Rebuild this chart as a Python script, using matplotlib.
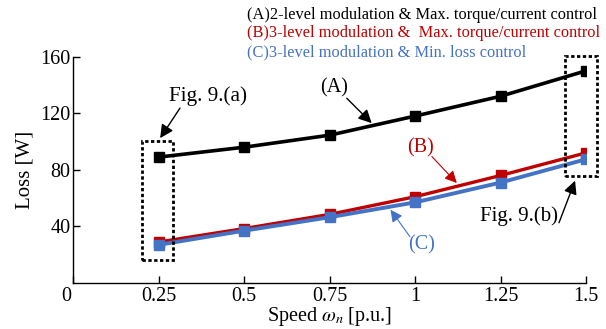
import matplotlib
matplotlib.use("Agg")
import matplotlib.pyplot as plt
from matplotlib.patches import Rectangle
from matplotlib.transforms import ScaledTranslation

plt.rcParams["font.family"] = ["Liberation Serif", "DejaVu Serif"]
plt.rcParams["mathtext.fontset"] = "stix"

# data
speed = [0.25, 0.5, 0.75, 1.0, 1.25, 1.5]
loss_a = [89, 96, 104.5, 118, 132, 150]
loss_b = [29, 38.5, 48.5, 61, 76, 92]
loss_c = [27, 37, 46.5, 57, 71, 87.5]

x_ticks = [0, 0.25, 0.5, 0.75, 1, 1.25, 1.5]
x_tick_labels = ["0", "0.25", "0.5", "0.75", "1", "1.25", "1.5"]
y_ticks = [40, 80, 120, 160]

legend_texts = [
    "(A)2-level modulation & Max. torque/current control",
    "(B)3-level modulation &  Max. torque/current control",
    "(C)3-level modulation & Min. loss control",
]

BLACK = "black"
RED = "#C00000"
BLUE = "#4472C4"

fig = plt.figure(figsize=(6.06, 3.29), dpi=100)
ax = fig.add_axes([0.121, 0.1398, 0.846, 0.688])

ax.plot(speed, loss_a, color=BLACK, lw=2.6, marker="s", ms=7.5, zorder=3)
ax.plot(speed, loss_b, color=RED, lw=2.4, marker="s", ms=7.5, zorder=3)
ax.plot(speed, loss_c, color=BLUE, lw=2.8, marker="s", ms=7.5, zorder=4)

ax.set_xlim(0, 1.5)
ax.set_ylim(0, 160)
ax.set_xticks(x_ticks)
ax.set_xticklabels(x_tick_labels)
ax.set_yticks(y_ticks)
ax.spines["top"].set_visible(False)
ax.spines["right"].set_visible(False)
for s in ("left", "bottom"):
    ax.spines[s].set_linewidth(1.0)
ax.tick_params(axis="both", direction="in", length=5, width=1, labelsize=14.5)
ax.tick_params(axis="y", pad=2)
ax.tick_params(axis="x", pad=3)

# "0" sits a bit left of the origin
lab0 = ax.get_xticklabels()[0]
lab0.set_transform(lab0.get_transform() + ScaledTranslation(-7.5 / 100, 0, fig.dpi_scale_trans))

ax.set_ylabel("Loss [W]", fontsize=15, labelpad=4)
ax.set_xlabel(r"Speed $\omega_n$ [p.u.]", fontsize=14.5, labelpad=-1)

# dotted boxes
dots = (0, (1.2, 0.9))
ax.add_patch(Rectangle((0.202, 16), 0.091, 84.7, fill=False, ec="black",
                       lw=2, ls=dots, clip_on=False, zorder=5))
ax.add_patch(Rectangle((1.439, 75.7), 0.092, 84.7, fill=False, ec="black",
                       lw=2, ls=dots, clip_on=False, zorder=5))

# annotations
def arrow(tip, tail, color, lw, ms):
    ax.annotate("", xy=tip, xytext=tail,
                arrowprops=dict(arrowstyle="-|>", color=color, lw=lw,
                                mutation_scale=ms, shrinkA=0, shrinkB=0),
                annotation_clip=False, zorder=6)

ax.text(0.394, 132.3, "Fig. 9.(a)", fontsize=15.3, ha="center", va="center")
arrow((0.254, 102.4), (0.312, 123.6), BLACK, 1.0, 20)

ax.text(1.304, 47.1, "Fig. 9.(b)", fontsize=15, ha="center", va="center")
arrow((1.468, 72.3), (1.421, 42.6), BLACK, 1.0, 20)

ax.text(0.763, 137.7, "(A)", fontsize=14.5, ha="center", va="center")
arrow((0.873, 113.0), (0.80, 130.6), BLACK, 1.0, 20)

ax.text(1.017, 95.6, "(B)", fontsize=14.5, ha="center", va="center", color=RED)
arrow((1.122, 70.7), (1.049, 89.4), RED, 0.8, 18)

ax.text(1.019, 26.7, "(C)", fontsize=14.5, ha="center", va="center", color=BLUE)
arrow((0.928, 51.8), (0.985, 32.7), BLUE, 0.8, 18)

# legend-like labels at the top
for txt, col, yy in zip(legend_texts, [BLACK, RED, BLUE], [0.954, 0.899, 0.840]):
    fig.text(0.407, yy, txt, color=col, fontsize=11.8, ha="left", va="center")

fig.savefig("out.png", dpi=100)
